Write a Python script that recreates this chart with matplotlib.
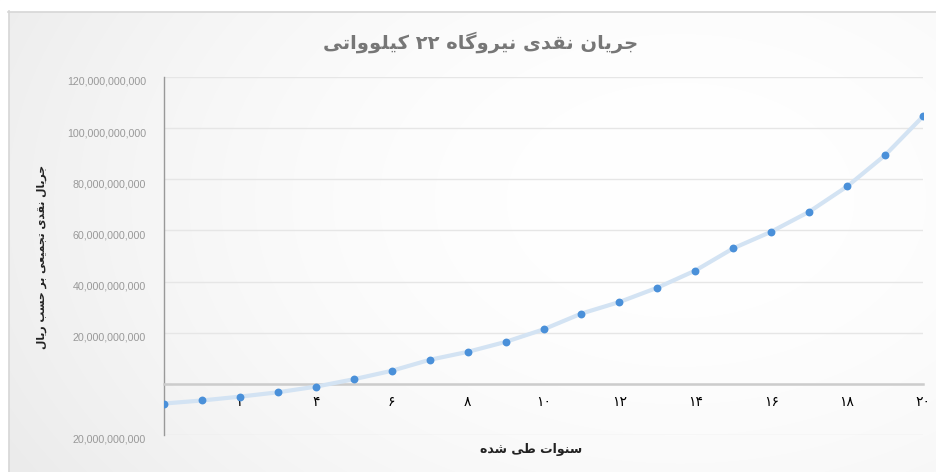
import re
import numpy as np
import matplotlib
matplotlib.use('Agg')
import matplotlib.pyplot as plt
import matplotlib.transforms as mtransforms
from matplotlib.patches import Rectangle

# Chart data
years = list(range(0, 21))
cash_flow = [-7.7e9, -6.5e9, -5.0e9, -3.3e9, -1.1e9, 1.8e9, 5.1e9, 9.4e9, 12.5e9,
             16.4e9, 21.3e9, 27.5e9, 32.0e9, 37.6e9, 44.3e9, 53.0e9, 59.5e9,
             67.3e9, 77.2e9, 89.4e9, 104.6e9]
x_ticks = [2, 4, 6, 8, 10, 12, 14, 16, 18, 20]
x_tick_labels = ['۲', '۴', '۶', '۸', '۱۰', '۱۲', '۱۴', '۱۶', '۱۸', '۲۰']
y_ticks = [-20e9, 0, 20e9, 40e9, 60e9, 80e9, 100e9, 120e9]
y_tick_labels = ['20,000,000,000', '', '20,000,000,000', '40,000,000,000',
                 '60,000,000,000', '80,000,000,000', '100,000,000,000',
                 '120,000,000,000']

title = 'جریان نقدی نیروگاه ۲۲ کیلوواتی'
x_label = 'سنوات طی شده'
y_label = 'جریال نقدی تجمیعی بر حسب ریال'

# matplotlib does no Arabic shaping, so pick presentation forms by hand
# (isolated, final, initial, medial)
FORMS = {
    'ا': ('\uFE8D', '\uFE8E'),
    'د': ('\uFEA9', '\uFEAA'),
    'ر': ('\uFEAD', '\uFEAE'),
    'و': ('\uFEED', '\uFEEE'),
    'ب': ('\uFE8F', '\uFE90', '\uFE91', '\uFE92'),
    'ت': ('\uFE95', '\uFE96', '\uFE97', '\uFE98'),
    'ج': ('\uFE9D', '\uFE9E', '\uFE9F', '\uFEA0'),
    'ح': ('\uFEA1', '\uFEA2', '\uFEA3', '\uFEA4'),
    'س': ('\uFEB1', '\uFEB2', '\uFEB3', '\uFEB4'),
    'ش': ('\uFEB5', '\uFEB6', '\uFEB7', '\uFEB8'),
    'ط': ('\uFEC1', '\uFEC2', '\uFEC3', '\uFEC4'),
    'ع': ('\uFEC9', '\uFECA', '\uFECB', '\uFECC'),
    'ق': ('\uFED5', '\uFED6', '\uFED7', '\uFED8'),
    'ل': ('\uFEDD', '\uFEDE', '\uFEDF', '\uFEE0'),
    'م': ('\uFEE1', '\uFEE2', '\uFEE3', '\uFEE4'),
    'ن': ('\uFEE5', '\uFEE6', '\uFEE7', '\uFEE8'),
    'ه': ('\uFEE9', '\uFEEA', '\uFEEB', '\uFEEC'),
    'ی': ('\uFBFC', '\uFBFD', '\uFBFE', '\uFBFF'),
    'ک': ('\uFB8E', '\uFB8F', '\uFB90', '\uFB91'),
    'گ': ('\uFB92', '\uFB93', '\uFB94', '\uFB95'),
}


def shape(text):
    out = []
    for i, ch in enumerate(text):
        if ch not in FORMS:
            out.append(ch)
            continue
        prev = text[i - 1] if i > 0 else ''
        nxt = text[i + 1] if i + 1 < len(text) else ''
        join_prev = prev in FORMS and len(FORMS[prev]) == 4
        join_next = nxt in FORMS and len(FORMS[ch]) == 4
        forms = FORMS[ch]
        if join_prev and join_next:
            out.append(forms[3])
        elif join_prev:
            out.append(forms[1])
        elif join_next:
            out.append(forms[2])
        else:
            out.append(forms[0])
    visual = ''.join(out)[::-1]
    # numbers stay left-to-right
    return re.sub(r'[۰-۹0-9]+', lambda m: m.group(0)[::-1], visual)


W, H = 936, 472
fig = plt.figure(figsize=(W / 100, H / 100), dpi=100, facecolor='white')

# soft gradient background of the chart box (greyer to the left and bottom)
bg = fig.add_axes([0, 0, 1, 1], zorder=-10)
yy, xx = np.mgrid[0:H, 0:W]
d2 = ((xx - 680) / 620.0) ** 2 + ((yy - 200) / 420.0) ** 2
shade = np.clip(1.0 - 0.05 * d2, 0.925, 1.0)
bg.imshow(np.dstack([shade] * 3), extent=[0, W, H, 0], aspect='auto')
bg.add_patch(Rectangle((0, 0), 8, H, color='white', zorder=2))
bg.add_patch(Rectangle((0, 0), W, 11, color='white', zorder=2))
bg.plot([8.5, 8.5], [11, H], color='#d6d6d6', lw=1.2, zorder=3)
bg.plot([8, W], [11.5, 11.5], color='#d6d6d6', lw=1.2, zorder=3)
bg.set_xlim(0, W)
bg.set_ylim(H, 0)
bg.axis('off')

ax = fig.add_axes([164 / W, 1 - 435 / H, (923 - 164) / W, (435 - 77) / H])
ax.set_facecolor('none')

ax.plot(years, cash_flow, color='#d3e3f3', lw=3, zorder=3, solid_joinstyle='round')
ax.scatter(years, cash_flow, s=32, color='#4a90d9', zorder=4, linewidths=0)

ax.set_xlim(0, 20)
ax.set_ylim(-20e9, 120e9)
ax.set_yticks(y_ticks)
ax.set_yticklabels(y_tick_labels, fontfamily='Liberation Sans', fontsize=7.7, color='#999999')
ax.set_xticks(x_ticks)
ax.set_xticklabels(x_tick_labels, fontfamily='DejaVu Sans', fontsize=7.5, color='#999999')
ax.tick_params(axis='y', length=0, pad=13)
ax.tick_params(axis='x', length=0, pad=8)
ax.grid(axis='y', color='#e6e6e6', lw=1)
ax.set_axisbelow(True)

# y labels sit a little below their grid lines
shift = mtransforms.ScaledTranslation(0, -4 / 100, fig.dpi_scale_trans)
for lbl in ax.get_yticklabels():
    lbl.set_transform(lbl.get_transform() + shift)

for side in ['top', 'right']:
    ax.spines[side].set_visible(False)
ax.spines['left'].set_color('#999999')
ax.spines['left'].set_linewidth(1)
ax.spines['bottom'].set_position(('data', 0))
ax.spines['bottom'].set_color('#cccccc')
ax.spines['bottom'].set_linewidth(1.8)

fig.text(481 / W, 1 - 42 / H, shape(title), ha='center', va='center',
         fontsize=14, fontweight='bold', color='#777777', fontfamily='DejaVu Sans')
fig.text(531 / W, 1 - 449 / H, shape(x_label), ha='center', va='center',
         fontsize=9, fontweight='bold', color='#222222', fontfamily='DejaVu Sans')
fig.text(42 / W, 1 - 257 / H, shape(y_label), ha='center', va='center', rotation=90,
         fontsize=7.8, fontweight='bold', color='#222222', fontfamily='DejaVu Sans')

fig.savefig('out.png', dpi=100, facecolor='white')
